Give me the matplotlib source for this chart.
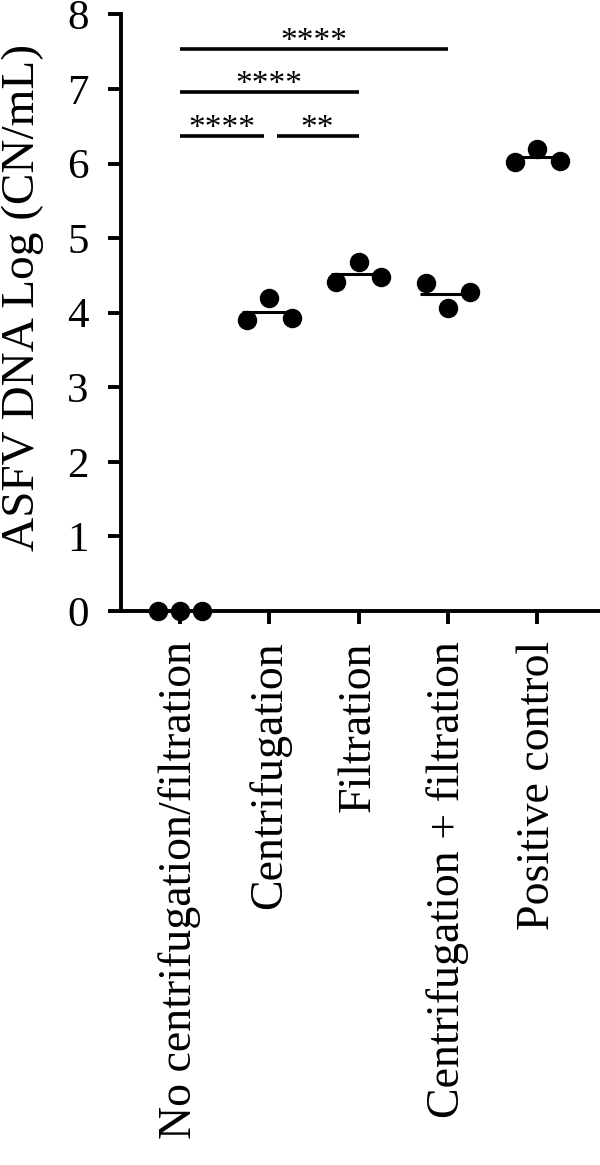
import numpy as np
import matplotlib
matplotlib.use('Agg')
import matplotlib.pyplot as plt

# groups and replicate values (log copies/mL)
groups = ['No centrifugation/filtration', 'Centrifugation', 'Filtration',
          'Centrifugation + filtration', 'Positive control']
no_treatment = [0.0, 0.0, 0.0]
centrifugation = [3.90, 4.20, 3.93]
filtration = [4.41, 4.68, 4.48]
centri_filtration = [4.40, 4.06, 4.28]
positive_control = [6.02, 6.20, 6.03]
replicates = [no_treatment, centrifugation, filtration, centri_filtration, positive_control]

# significance brackets: start, end (group index), height, label
sig_start = [0, 1.08, 0, 0]
sig_end = [0.94, 2, 2, 3]
sig_height = [6.37, 6.37, 6.96, 7.53]
sig_label = ['****', '**', '****', '****']

plt.rcParams['font.family'] = ['Liberation Serif', 'DejaVu Serif']

fig = plt.figure(figsize=(6, 11.65), dpi=100)
ax = fig.add_axes([0.2017, 0.4755, 0.7983, 0.5121])

offsets = [-0.25, 0, 0.25]
for i, vals in enumerate(replicates):
    xs = [i + o for o in offsets]
    # mean line
    m = np.mean(vals)
    ax.plot([i - 0.31, i + 0.31], [m, m], color='black', lw=2.2, zorder=2,
            solid_capstyle='butt')
    ax.plot(xs, vals, 'o', color='black', markersize=13, zorder=3, clip_on=False)

for x0, x1, h, lab in zip(sig_start, sig_end, sig_height, sig_label):
    ax.plot([x0, x1], [h, h], color='black', lw=2.6, solid_capstyle='butt')
    ax.text((x0 + x1) / 2, h - 0.01, lab, ha='center', va='baseline', fontsize=24)

ax.set_xlim(-0.66, 4.7)
ax.set_ylim(0, 8)
ax.set_yticks(range(0, 9))
ax.set_xticks(range(len(groups)))
ax.set_xticklabels(groups, rotation=90, fontsize=33)
ax.tick_params(axis='y', labelsize=31, length=9.5, width=2.8, pad=14)
ax.tick_params(axis='x', length=9.5, width=2.8, pad=12)

for s in ['top', 'right']:
    ax.spines[s].set_visible(False)
for s in ['left', 'bottom']:
    ax.spines[s].set_linewidth(2.8)

ax.set_ylabel('ASFV DNA Log (CN/mL)', fontsize=34)
ax.yaxis.set_label_coords(-0.16, 0.525)

fig.savefig('out.png', dpi=100)
